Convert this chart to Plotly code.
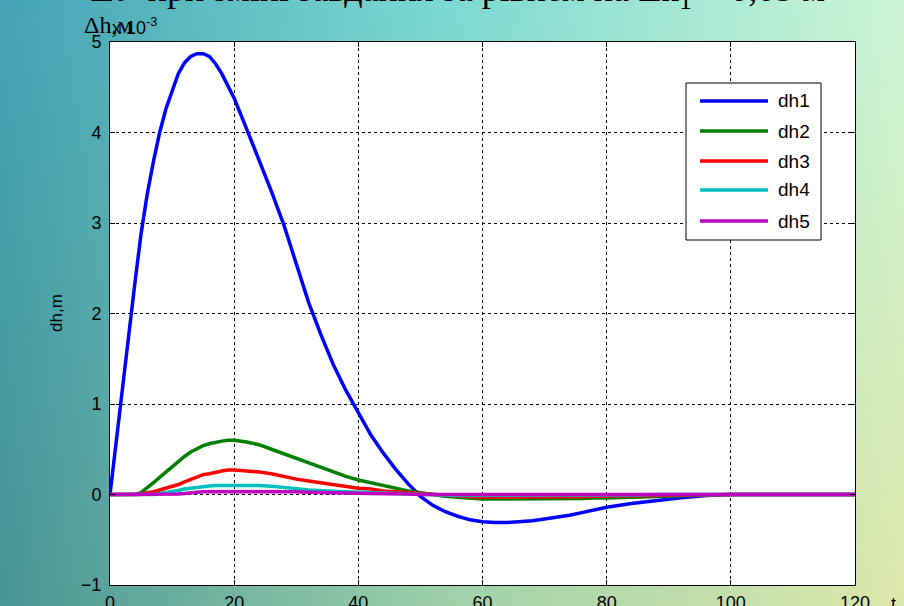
import numpy as np
import zlib, struct, base64
import plotly.graph_objects as go

# ---------------- data ----------------
t = [0, 1, 2, 3, 4, 5, 6, 7, 8, 9, 10, 11, 12, 13, 14, 15, 16, 17, 18, 19, 20,
     22, 24, 26, 28, 30, 32, 34, 36, 38, 40, 42, 44, 46, 48, 50, 52, 54, 56, 58,
     60, 62, 64, 66, 68, 70, 72, 74, 76, 78, 80, 84, 88, 92, 96, 100, 110, 120]

dh1 = [0, 0.6, 1.2, 1.78, 2.33, 2.88, 3.32, 3.68, 4.0, 4.26, 4.47, 4.65, 4.77, 4.84, 4.87, 4.87,
       4.84, 4.76, 4.65, 4.52, 4.38,
       4.04, 3.7, 3.35, 2.98, 2.55, 2.12, 1.76, 1.43, 1.15, 0.9, 0.66, 0.46, 0.28, 0.12, -0.02,
       -0.12, -0.19, -0.24, -0.28, -0.30, -0.31, -0.31, -0.30, -0.29, -0.27, -0.25, -0.23, -0.2,
       -0.17, -0.14, -0.1, -0.065, -0.035, -0.01, 0, 0, 0]

dh2 = [0, 0, 0, 0, 0, 0.02, 0.07, 0.13, 0.19, 0.25, 0.31, 0.37, 0.42, 0.47, 0.51, 0.54, 0.56,
       0.58, 0.59, 0.6, 0.6,
       0.58, 0.55, 0.5, 0.45, 0.4, 0.35, 0.3, 0.25, 0.2, 0.16, 0.13, 0.1, 0.07, 0.04, 0.02,
       0, -0.02, -0.03, -0.04, -0.05, -0.05, -0.05, -0.05, -0.05, -0.05, -0.05, -0.05, -0.045,
       -0.04, -0.04, -0.03, -0.02, -0.01, -0.005, 0, 0, 0]

dh3 = [0, 0, 0, 0, 0, 0, 0.02, 0.03, 0.05, 0.07, 0.09, 0.11, 0.14, 0.17, 0.2, 0.22, 0.23,
       0.25, 0.26, 0.27, 0.27,
       0.26, 0.25, 0.23, 0.2, 0.17, 0.15, 0.13, 0.11, 0.09, 0.07, 0.06, 0.04, 0.03, 0.02, 0.01,
       0, -0.01, -0.02, -0.025, -0.03, -0.03, -0.03, -0.03, -0.03, -0.03, -0.03, -0.025, -0.025,
       -0.02, -0.02, -0.015, -0.01, -0.005, 0, 0, 0, 0]

dh4 = [0, 0, 0, 0, 0, 0, 0, 0, 0.01, 0.02, 0.03, 0.045, 0.06, 0.07, 0.08, 0.09, 0.095,
       0.1, 0.1, 0.1, 0.1,
       0.1, 0.1, 0.09, 0.08, 0.065, 0.05, 0.04, 0.035, 0.03, 0.025, 0.02, 0.015, 0.01, 0.005, 0,
       0, -0.005, -0.01, -0.01, -0.01, -0.01, -0.01, -0.01, -0.01, -0.01, -0.01, -0.01, -0.01,
       -0.01, -0.01, -0.005, 0, 0, 0, 0, 0, 0]

dh5 = [0, 0, 0, 0, 0, 0, 0, 0, 0, 0, 0, 0.005, 0.01, 0.02, 0.025, 0.03, 0.03,
       0.033, 0.035, 0.035, 0.035,
       0.035, 0.035, 0.035, 0.035, 0.03, 0.025, 0.02, 0.018, 0.015, 0.013, 0.01, 0.01, 0.008,
       0.005, 0,
       0, 0, 0, 0, 0, 0, 0, 0, 0, 0, 0, 0, 0, 0, 0, 0, 0, 0, 0, 0, 0, 0]

series_names = ["dh1", "dh2", "dh3", "dh4", "dh5"]
series_values = [dh1, dh2, dh3, dh4, dh5]
series_colors = ["#0000ff", "#008000", "#ff0000", "#00bfbf", "#bf00bf"]

x_ticks = [0, 20, 40, 60, 80, 100, 120]
y_ticks = [-1, 0, 1, 2, 3, 4, 5]

# ---------------- geometry ----------------
W, H = 904, 606
L, R, T, B = 110, 855, 42, 585
PW, PH = R - L, B - T


def px(xp):
    return (xp - L) / PW


def py(yp):
    return (B - yp) / PH


# ---------------- background gradient ----------------
def gradient_uri(w=226, h=152):
    top = np.array([[70, 165, 182], [125, 218, 212], [205, 246, 215]], float)
    bot = np.array([[72, 150, 150], [160, 210, 170], [222, 232, 172]], float)
    u = np.linspace(0, 1, w)
    v = np.linspace(0, 1, h)
    cols = np.array([0, 0.5, 1.0])
    topc = np.stack([np.interp(u, cols, top[:, k]) for k in range(3)], -1)
    botc = np.stack([np.interp(u, cols, bot[:, k]) for k in range(3)], -1)
    img = topc[None, :, :] * (1 - v[:, None, None]) + botc[None, :, :] * v[:, None, None]
    img = np.clip(img, 0, 255).astype(np.uint8)
    raw = b"".join(b"\x00" + img[i].tobytes() for i in range(h))

    def chunk(tag, data):
        return (struct.pack(">I", len(data)) + tag + data +
                struct.pack(">I", zlib.crc32(tag + data) & 0xffffffff))

    png = (b"\x89PNG\r\n\x1a\n" +
           chunk(b"IHDR", struct.pack(">IIBBBBB", w, h, 8, 2, 0, 0, 0)) +
           chunk(b"IDAT", zlib.compress(raw, 9)) + chunk(b"IEND", b""))
    return "data:image/png;base64," + base64.b64encode(png).decode()


fig = go.Figure()
for name, vals, col in zip(series_names, series_values, series_colors):
    fig.add_trace(go.Scatter(x=t, y=vals, mode="lines", name=name,
                             line=dict(color=col, width=3.5), showlegend=False))

sans = "Liberation Sans, Arial, sans-serif"
serif = "Liberation Serif, Times New Roman, serif"

axis_common = dict(showline=True, linecolor="black", linewidth=1, mirror="ticks",
                   ticks="inside", ticklen=5, tickcolor="black",
                   showgrid=True, gridcolor="black", gridwidth=1, griddash="dot",
                   zeroline=False, tickfont=dict(family=sans, size=18, color="black"))

fig.update_layout(
    width=W, height=H,
    margin=dict(l=L, r=W - R, t=T, b=H - B, autoexpand=False),
    paper_bgcolor="#5fb8bf", plot_bgcolor="white",
    title=dict(text="ΔУ при зміні завдання за рівнем на Δh<sub>1</sub> = 0,05 м",
               xref="container", yref="container", x=90 / W, xanchor="left",
               y=1 - 1 / H, yanchor="bottom", automargin=False,
               font=dict(family=serif, size=36, color="black")),
    xaxis=dict(range=[0, 120], tickvals=x_ticks, ticklabelstandoff=1, **axis_common),
    yaxis=dict(range=[-1, 5], tickvals=y_ticks, ticklabelstandoff=4, **axis_common),
    images=[dict(source=gradient_uri(), xref="paper", yref="paper",
                 x=px(0), y=py(0), sizex=W / PW, sizey=H / PH,
                 xanchor="left", yanchor="top", sizing="stretch", layer="below")],
)

shapes = [dict(type="rect", xref="paper", yref="paper", x0=0, x1=1, y0=0, y1=1,
               fillcolor="white", line=dict(width=0), layer="below")]
annotations = []

# legend box
lx0, lx1, ly0, ly1 = 686, 821, 83, 240
shapes.append(dict(type="rect", xref="paper", yref="paper", x0=px(lx0), x1=px(lx1),
                   y0=py(ly1), y1=py(ly0), fillcolor="white",
                   line=dict(color="black", width=1), layer="above"))
entry_y = [101, 131, 161, 190, 221]
for name, col, ey in zip(series_names, series_colors, entry_y):
    shapes.append(dict(type="line", xref="paper", yref="paper", x0=px(700), x1=px(768),
                       y0=py(ey), y1=py(ey), line=dict(color=col, width=3.5), layer="above"))
    annotations.append(dict(text=name, xref="paper", yref="paper", x=px(776), y=py(ey),
                            xanchor="left", yanchor="middle", showarrow=False,
                            font=dict(family=sans, size=19, color="black")))

# y axis label
annotations.append(dict(text="dh,m", xref="paper", yref="paper", x=px(57), y=py(313),
                        textangle=-90, showarrow=False, xanchor="center", yanchor="middle",
                        font=dict(family=sans, size=17, color="black")))
# x axis label "t"
annotations.append(dict(text="t", xref="paper", yref="paper", x=px(893), y=py(592),
                        xanchor="center", yanchor="top", showarrow=False,
                        font=dict(family=sans, size=18, color="black")))
# exponent label
annotations.append(dict(text="x 10<sup>-3</sup>", xref="paper", yref="paper", x=px(110),
                        y=py(40), xanchor="left", yanchor="bottom", showarrow=False,
                        font=dict(family=sans, size=18, color="black")))
# unit label
annotations.append(dict(text="Δh,м", xref="paper", yref="paper", x=px(82), y=py(40),
                        xanchor="left", yanchor="bottom", showarrow=False,
                        font=dict(family=serif, size=24, color="black")))

fig.update_layout(shapes=shapes, annotations=annotations)
fig.write_html("out.html", config={"displayModeBar": False},
               post_script="document.body.style.margin='0';document.body.style.padding='0';")
